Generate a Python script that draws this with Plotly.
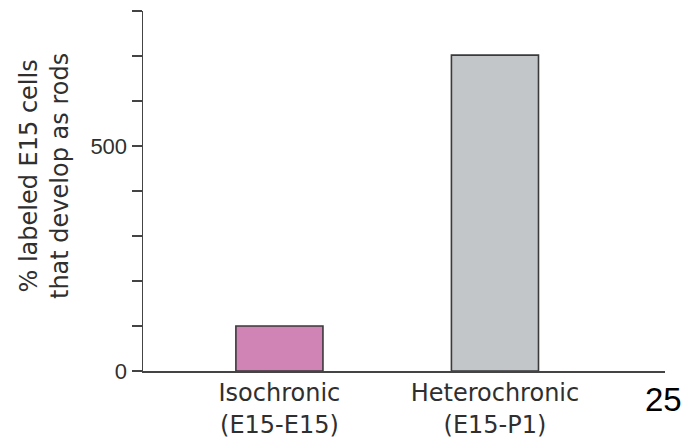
import plotly.graph_objects as go

categories = ["Isochronic<br>(E15-E15)", "Heterochronic<br>(E15-P1)"]
values = [100, 702]
bar_colors = ["#D083B5", "#C3C6C8"]
y_tick_vals = [0, 100, 200, 300, 400, 500, 600, 700, 800]
y_tick_text = ["0", "", "", "", "", "500", "", "", ""]

W, H = 690, 442
L, R, T, B = 143, 25, 11, 71
pw, ph = W - L - R, H - T - B

fig = go.Figure()
fig.add_trace(go.Bar(
    x=categories, y=values, width=0.404,
    marker=dict(color=bar_colors, line=dict(color="#3a3a3a", width=1.6)),
    hoverinfo="skip",
))

label_font = "DejaVu Sans, Verdana, sans-serif"
tick_font = "Liberation Sans, Arial, sans-serif"
text_col = "#2f2f2f"
fig.update_layout(
    template="none",
    width=W, height=H,
    margin=dict(l=L, r=R, t=T, b=B, pad=0),
    paper_bgcolor="white", plot_bgcolor="white",
    showlegend=False,
    font=dict(family=label_font, color=text_col),
    xaxis=dict(
        type="category", range=[-0.633, 1.789], automargin=False,
        showline=True, linecolor="#444", linewidth=1.5,
        showgrid=False, zeroline=False,
        ticks="",
        tickfont=dict(size=24, color=text_col, family=label_font),
    ),
    yaxis=dict(
        range=[0, 800], automargin=False,
        showline=True, linecolor="#444", linewidth=1.5,
        showgrid=False, zeroline=False,
        tickmode="array", tickvals=y_tick_vals, ticktext=y_tick_text,
        ticks="outside", ticklen=10, tickwidth=1.3, tickcolor="#444",
        tickfont=dict(size=22, color=text_col, family=tick_font),
    ),
    annotations=[
        dict(text="% labeled E15 cells<br>that develop as rods",
             xref="paper", yref="paper",
             x=(44 - L) / pw, y=(H - B - 176) / ph,
             xanchor="center", yanchor="middle", textangle=-90,
             showarrow=False,
             font=dict(size=24, color=text_col, family=label_font)),
        dict(text="25", xref="paper", yref="paper",
             x=(663 - L) / pw, y=(H - B - 399) / ph,
             xanchor="center", yanchor="middle", showarrow=False,
             font=dict(size=33, color="black", family=tick_font)),
    ],
)

fig.write_html(
    "out.html",
    config={"displayModeBar": False, "staticPlot": True},
    post_script="document.body.style.margin='0';document.body.style.overflow='hidden';",
)
